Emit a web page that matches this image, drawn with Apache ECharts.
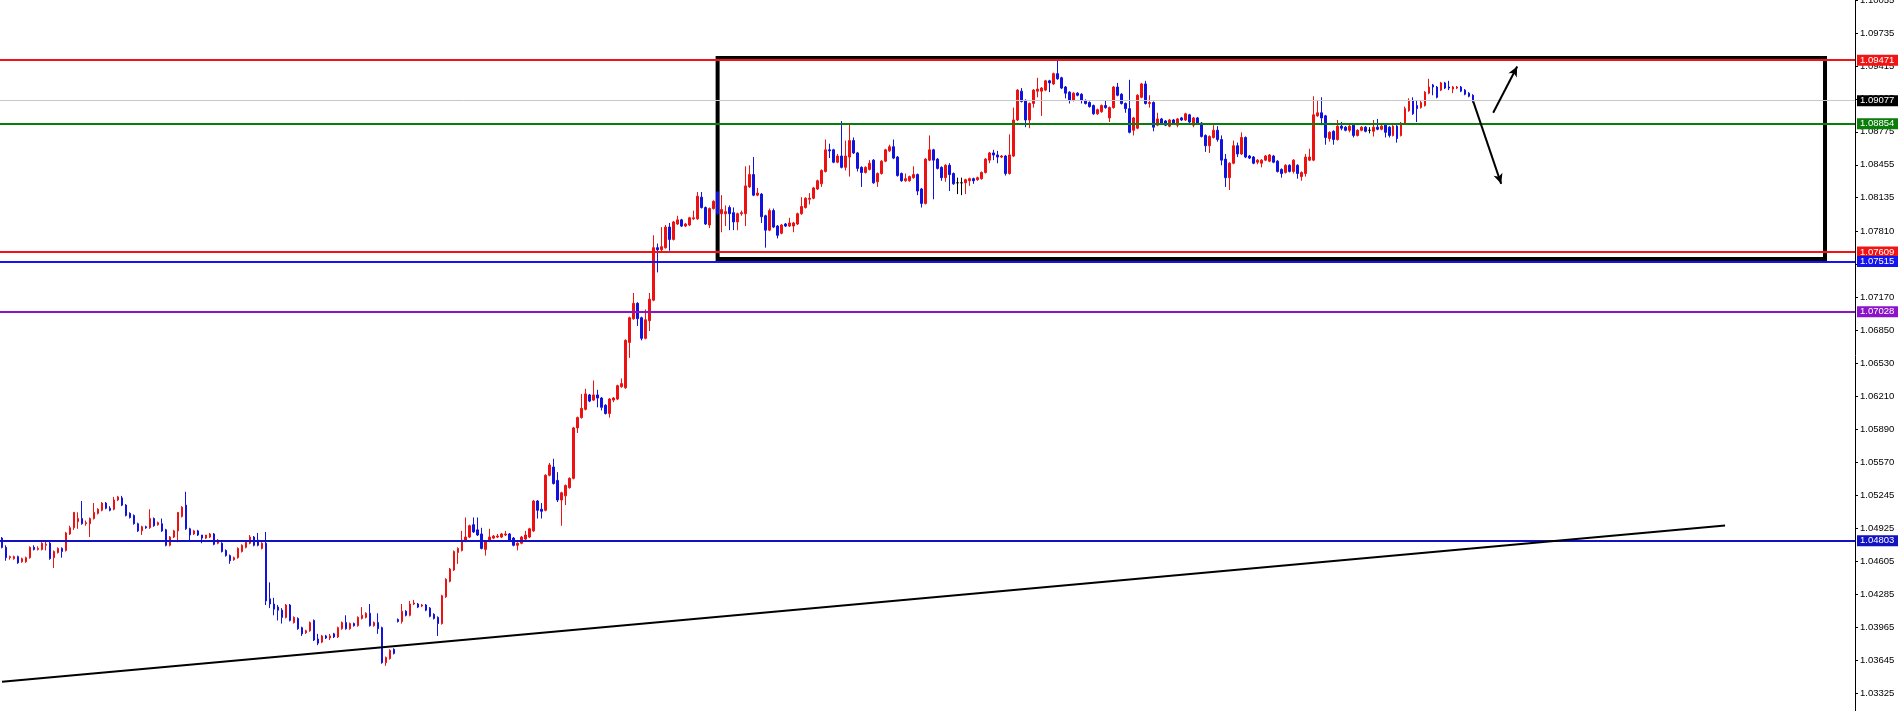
<!DOCTYPE html>
<html>
<head>
<meta charset="utf-8">
<script src="https://cdn.jsdelivr.net/npm/echarts@6/dist/echarts.min.js"></script>
<style>
html,body{margin:0;padding:0;background:#fff;}
#c{width:1898px;height:711px;}
</style>
</head>
<body>
<div id="c"></div>
<script>
// ---- DATA (EUR/USD style candles) ----
const opens = [
1.0483,1.0474,1.0464,1.0463,1.0465,1.0460,1.0460,1.0464,1.0474,1.0472,
1.0472,1.0476,1.0478,1.0464,1.0469,1.0473,1.0471,1.0487,1.0493,1.0499,
1.0502,1.0497,1.0497,1.0502,1.0507,1.0510,1.0517,1.0512,1.0511,1.0520,
1.0522,1.0515,1.0507,1.0505,1.0497,1.0490,1.0494,1.0493,1.0502,1.0496,
1.0497,1.0491,1.0476,1.0484,1.0490,1.0504,1.0515,1.0492,1.0487,1.0490,
1.0486,1.0483,1.0484,1.0487,1.0478,1.0478,1.0471,1.0466,1.0462,1.0464,
1.0470,1.0474,1.0478,1.0484,1.0481,1.0473,1.0478,1.0424,1.0419,1.0416,
1.0413,1.0406,1.0418,1.0401,1.0405,1.0396,1.0391,1.0393,1.0403,1.0385,
1.0382,1.0388,1.0386,1.0390,1.0387,1.0395,1.0401,1.0395,1.0400,1.0398,
1.0405,1.0406,1.0410,1.0398,1.0401,1.0396,1.0362,1.0366,1.0375,1.0404,
1.0402,1.0412,1.0408,1.0419,1.0419,1.0417,1.0418,1.0415,1.0409,1.0406,
1.0400,1.0426,1.0441,1.0452,1.0469,1.0471,1.0480,1.0484,1.0496,1.0491,
1.0487,1.0472,1.0480,1.0483,1.0484,1.0484,1.0486,1.0487,1.0483,1.0476,
1.0478,1.0482,1.0484,1.0490,1.0519,1.0511,1.0510,1.0544,1.0552,1.0539,
1.0520,1.0524,1.0532,1.0541,1.0590,1.0600,1.0608,1.0622,1.0617,1.0622,
1.0619,1.0612,1.0604,1.0617,1.0618,1.0630,1.0629,1.0673,1.0696,1.0711,
1.0697,1.0677,1.0694,1.0714,1.0765,1.0763,1.0765,1.0785,1.0773,1.0788,
1.0792,1.0786,1.0787,1.0793,1.0793,1.0814,1.0804,1.0787,1.0803,1.0819,
1.0798,1.0798,1.0804,1.0799,1.0790,1.0798,1.0798,1.0824,1.0836,1.0816,
1.0817,1.0796,1.0782,1.0801,1.0786,1.0779,1.0788,1.0786,1.0786,1.0788,
1.0798,1.0804,1.0812,1.0813,1.0822,1.0827,1.0839,1.0860,1.0860,1.0848,
1.0854,1.0843,1.0853,1.0869,1.0857,1.0843,1.0838,1.0841,1.0850,1.0829,
1.0837,1.0849,1.0859,1.0863,1.0853,1.0837,1.0830,1.0830,1.0833,1.0836,
1.0822,1.0808,1.0850,1.0860,1.0851,1.0843,1.0833,1.0845,1.0837,1.0828,
1.0828,1.0828,1.0830,1.0832,1.0831,1.0832,1.0838,1.0850,1.0857,1.0855,
1.0853,1.0854,1.0837,1.0854,1.0889,1.0917,1.0908,1.0889,1.0905,1.0917,
1.0917,1.0918,1.0927,1.0924,1.0934,1.0930,1.0921,1.0916,1.0908,1.0915,
1.0914,1.0908,1.0906,1.0903,1.0895,1.0897,1.0903,1.0891,1.0901,1.0921,
1.0914,1.0905,1.0900,1.0879,1.0881,1.0911,1.0924,1.0905,1.0906,1.0884,
1.0890,1.0888,1.0883,1.0889,1.0884,1.0891,1.0889,1.0894,1.0884,1.0891,
1.0886,1.0874,1.0864,1.0872,1.0879,1.0870,1.0851,1.0833,1.0847,1.0864,
1.0856,1.0872,1.0854,1.0853,1.0848,1.0847,1.0850,1.0849,1.0854,1.0849,
1.0841,1.0838,1.0845,1.0839,1.0845,1.0834,1.0837,1.0850,1.0850,1.0893,
1.0896,1.0893,1.0871,1.0878,1.0870,1.0883,1.0882,1.0879,1.0884,1.0874,
1.0879,1.0882,1.0879,1.0878,1.0882,1.0880,1.0884,1.0882,1.0874,1.0883,
1.0874,1.0886,1.0898,1.0908,1.0903,1.0901,1.0903,1.0915,1.0923,1.0921,
1.0918,1.0925,1.0921,1.0919,1.0920,1.0921,1.0918,1.0915,1.0913
];
const closes = [
1.0474,1.0464,1.0465,1.0465,1.0459,1.0463,1.0464,1.0474,1.0472,1.0473,
1.0478,1.0477,1.0463,1.0470,1.0473,1.0470,1.0488,1.0493,1.0508,1.0502,
1.0497,1.0498,1.0502,1.0508,1.0511,1.0517,1.0512,1.0510,1.0520,1.0523,
1.0515,1.0505,1.0503,1.0497,1.0490,1.0494,1.0493,1.0502,1.0495,1.0498,
1.0490,1.0476,1.0484,1.0490,1.0508,1.0513,1.0492,1.0486,1.0490,1.0486,
1.0483,1.0486,1.0487,1.0477,1.0481,1.0470,1.0466,1.0461,1.0464,1.0473,
1.0476,1.0479,1.0484,1.0476,1.0476,1.0478,1.0422,1.0419,1.0414,1.0413,
1.0406,1.0418,1.0403,1.0406,1.0395,1.0390,1.0393,1.0401,1.0384,1.0381,
1.0388,1.0386,1.0388,1.0387,1.0396,1.0401,1.0395,1.0400,1.0398,1.0406,
1.0408,1.0410,1.0398,1.0401,1.0395,1.0362,1.0367,1.0374,1.0371,1.0402,
1.0412,1.0408,1.0419,1.0420,1.0416,1.0418,1.0413,1.0407,1.0405,1.0400,
1.0427,1.0443,1.0453,1.0470,1.0473,1.0481,1.0484,1.0495,1.0489,1.0486,
1.0473,1.0480,1.0484,1.0485,1.0485,1.0487,1.0487,1.0481,1.0476,1.0478,
1.0484,1.0486,1.0492,1.0519,1.0510,1.0509,1.0544,1.0554,1.0536,1.0520,
1.0527,1.0534,1.0541,1.0590,1.0600,1.0609,1.0623,1.0616,1.0622,1.0619,
1.0610,1.0604,1.0618,1.0619,1.0631,1.0633,1.0675,1.0697,1.0711,1.0696,
1.0677,1.0695,1.0715,1.0765,1.0763,1.0766,1.0785,1.0773,1.0790,1.0792,
1.0786,1.0788,1.0794,1.0794,1.0815,1.0804,1.0788,1.0803,1.0810,1.0798,
1.0802,1.0800,1.0798,1.0790,1.0798,1.0799,1.0825,1.0836,1.0816,1.0818,
1.0795,1.0782,1.0801,1.0785,1.0777,1.0787,1.0786,1.0789,1.0789,1.0798,
1.0805,1.0813,1.0813,1.0823,1.0830,1.0840,1.0860,1.0859,1.0848,1.0854,
1.0843,1.0854,1.0869,1.0857,1.0842,1.0838,1.0843,1.0847,1.0828,1.0837,
1.0849,1.0860,1.0863,1.0852,1.0835,1.0830,1.0832,1.0834,1.0836,1.0820,
1.0808,1.0851,1.0860,1.0850,1.0842,1.0833,1.0845,1.0836,1.0827,1.0828,
1.0828,1.0831,1.0832,1.0830,1.0833,1.0838,1.0851,1.0857,1.0855,1.0853,
1.0854,1.0837,1.0855,1.0889,1.0918,1.0907,1.0889,1.0905,1.0918,1.0919,
1.0920,1.0927,1.0925,1.0934,1.0929,1.0920,1.0915,1.0908,1.0915,1.0913,
1.0908,1.0905,1.0902,1.0895,1.0899,1.0903,1.0901,1.0901,1.0921,1.0913,
1.0905,1.0900,1.0877,1.0891,1.0913,1.0924,1.0905,1.0906,1.0882,1.0890,
1.0886,1.0884,1.0889,1.0886,1.0890,1.0889,1.0895,1.0887,1.0891,1.0886,
1.0873,1.0864,1.0873,1.0879,1.0870,1.0850,1.0833,1.0847,1.0864,1.0856,
1.0872,1.0853,1.0852,1.0847,1.0850,1.0850,1.0854,1.0855,1.0848,1.0839,
1.0837,1.0845,1.0839,1.0850,1.0837,1.0838,1.0853,1.0853,1.0894,1.0896,
1.0891,1.0872,1.0877,1.0870,1.0883,1.0881,1.0879,1.0883,1.0874,1.0879,
1.0882,1.0878,1.0879,1.0882,1.0880,1.0883,1.0877,1.0874,1.0883,1.0871,
1.0886,1.0900,1.0908,1.0895,1.0900,1.0906,1.0916,1.0921,1.0921,1.0911,
1.0925,1.0920,1.0920,1.0921,1.0921,1.0917,1.0914,1.0912,1.0908
];
const lows = [
1.0473,1.0461,1.0462,1.0462,1.0458,1.0459,1.0459,1.0463,1.0471,1.0471,
1.0471,1.0471,1.0462,1.0454,1.0468,1.0464,1.0470,1.0486,1.0491,1.0492,
1.0496,1.0495,1.0484,1.0501,1.0506,1.0509,1.0511,1.0509,1.0510,1.0519,
1.0514,1.0504,1.0502,1.0496,1.0489,1.0486,1.0492,1.0492,1.0494,1.0495,
1.0489,1.0475,1.0475,1.0483,1.0479,1.0503,1.0491,1.0481,1.0486,1.0485,
1.0478,1.0482,1.0483,1.0476,1.0477,1.0469,1.0465,1.0458,1.0461,1.0463,
1.0469,1.0473,1.0477,1.0475,1.0475,1.0472,1.0418,1.0415,1.0408,1.0403,
1.0400,1.0405,1.0402,1.0400,1.0394,1.0388,1.0390,1.0392,1.0383,1.0379,
1.0381,1.0385,1.0384,1.0386,1.0386,1.0394,1.0394,1.0394,1.0397,1.0397,
1.0404,1.0405,1.0397,1.0397,1.0390,1.0361,1.0359,1.0365,1.0370,1.0401,
1.0400,1.0407,1.0407,1.0418,1.0415,1.0416,1.0412,1.0406,1.0404,1.0388,
1.0399,1.0425,1.0440,1.0451,1.0458,1.0470,1.0479,1.0483,1.0488,1.0485,
1.0472,1.0466,1.0479,1.0482,1.0483,1.0483,1.0485,1.0480,1.0475,1.0471,
1.0477,1.0481,1.0483,1.0489,1.0502,1.0502,1.0509,1.0543,1.0535,1.0518,
1.0495,1.0515,1.0531,1.0540,1.0585,1.0599,1.0607,1.0615,1.0616,1.0610,
1.0607,1.0603,1.0600,1.0615,1.0617,1.0629,1.0628,1.0658,1.0695,1.0689,
1.0675,1.0676,1.0684,1.0713,1.0741,1.0760,1.0764,1.0762,1.0772,1.0787,
1.0785,1.0785,1.0786,1.0792,1.0792,1.0803,1.0787,1.0784,1.0802,1.0797,
1.0780,1.0786,1.0782,1.0782,1.0782,1.0796,1.0786,1.0823,1.0815,1.0815,
1.0789,1.0765,1.0781,1.0784,1.0774,1.0778,1.0785,1.0785,1.0780,1.0787,
1.0797,1.0803,1.0807,1.0812,1.0821,1.0824,1.0838,1.0852,1.0847,1.0847,
1.0842,1.0840,1.0834,1.0856,1.0839,1.0824,1.0837,1.0840,1.0827,1.0824,
1.0836,1.0848,1.0858,1.0851,1.0834,1.0829,1.0829,1.0829,1.0832,1.0816,
1.0804,1.0807,1.0849,1.0812,1.0841,1.0830,1.0829,1.0820,1.0826,1.0817,
1.0816,1.0817,1.0825,1.0827,1.0830,1.0831,1.0837,1.0847,1.0850,1.0847,
1.0852,1.0835,1.0836,1.0853,1.0888,1.0906,1.0882,1.0881,1.0901,1.0911,
1.0893,1.0917,1.0916,1.0923,1.0928,1.0919,1.0910,1.0905,1.0907,1.0912,
1.0905,1.0904,1.0901,1.0894,1.0894,1.0896,1.0900,1.0887,1.0900,1.0912,
1.0904,1.0896,1.0876,1.0874,1.0880,1.0910,1.0904,1.0901,1.0878,1.0883,
1.0885,1.0883,1.0882,1.0885,1.0882,1.0888,1.0888,1.0886,1.0882,1.0885,
1.0872,1.0858,1.0857,1.0871,1.0868,1.0845,1.0824,1.0821,1.0846,1.0853,
1.0855,1.0852,1.0851,1.0846,1.0846,1.0843,1.0849,1.0848,1.0847,1.0838,
1.0833,1.0837,1.0838,1.0837,1.0832,1.0830,1.0834,1.0849,1.0849,1.0892,
1.0884,1.0865,1.0868,1.0865,1.0869,1.0879,1.0878,1.0877,1.0872,1.0873,
1.0878,1.0877,1.0876,1.0873,1.0879,1.0879,1.0872,1.0872,1.0873,1.0867,
1.0873,1.0885,1.0897,1.0894,1.0887,1.0900,1.0902,1.0914,1.0913,1.0910,
1.0917,1.0919,1.0918,1.0915,1.0919,1.0916,1.0913,1.0911,1.0906
];
const highs = [
1.0484,1.0476,1.0466,1.0466,1.0466,1.0464,1.0465,1.0475,1.0476,1.0475,
1.0479,1.0480,1.0480,1.0471,1.0474,1.0474,1.0489,1.0495,1.0508,1.0508,
1.0519,1.0500,1.0503,1.0517,1.0512,1.0518,1.0518,1.0514,1.0523,1.0524,
1.0524,1.0516,1.0508,1.0506,1.0498,1.0495,1.0495,1.0511,1.0503,1.0499,
1.0502,1.0492,1.0485,1.0491,1.0508,1.0514,1.0528,1.0493,1.0491,1.0491,
1.0486,1.0486,1.0488,1.0488,1.0482,1.0479,1.0472,1.0467,1.0465,1.0474,
1.0477,1.0480,1.0486,1.0485,1.0488,1.0479,1.0489,1.0440,1.0425,1.0418,
1.0415,1.0419,1.0419,1.0407,1.0406,1.0397,1.0394,1.0402,1.0404,1.0390,
1.0389,1.0389,1.0390,1.0391,1.0397,1.0402,1.0408,1.0401,1.0401,1.0407,
1.0416,1.0411,1.0419,1.0402,1.0410,1.0397,1.0368,1.0375,1.0376,1.0405,
1.0419,1.0413,1.0422,1.0423,1.0420,1.0419,1.0419,1.0416,1.0410,1.0407,
1.0428,1.0444,1.0454,1.0471,1.0474,1.0490,1.0503,1.0496,1.0503,1.0503,
1.0493,1.0481,1.0492,1.0486,1.0487,1.0488,1.0490,1.0488,1.0484,1.0479,
1.0485,1.0490,1.0493,1.0520,1.0520,1.0517,1.0545,1.0556,1.0560,1.0547,
1.0528,1.0535,1.0542,1.0591,1.0601,1.0623,1.0628,1.0623,1.0636,1.0627,
1.0620,1.0613,1.0619,1.0620,1.0632,1.0638,1.0676,1.0698,1.0721,1.0712,
1.0698,1.0705,1.0721,1.0777,1.0769,1.0785,1.0787,1.0789,1.0791,1.0796,
1.0793,1.0789,1.0795,1.0801,1.0819,1.0819,1.0805,1.0804,1.0811,1.0820,
1.0816,1.0806,1.0806,1.0804,1.0799,1.0801,1.0844,1.0845,1.0853,1.0823,
1.0818,1.0797,1.0803,1.0803,1.0787,1.0788,1.0789,1.0794,1.0790,1.0799,
1.0814,1.0814,1.0818,1.0824,1.0831,1.0841,1.0870,1.0866,1.0861,1.0856,
1.0888,1.0869,1.0886,1.0872,1.0858,1.0844,1.0844,1.0850,1.0851,1.0838,
1.0850,1.0861,1.0865,1.0870,1.0854,1.0838,1.0837,1.0835,1.0844,1.0837,
1.0823,1.0852,1.0874,1.0861,1.0852,1.0844,1.0846,1.0847,1.0838,1.0833,
1.0833,1.0832,1.0833,1.0833,1.0834,1.0839,1.0852,1.0858,1.0860,1.0859,
1.0855,1.0855,1.0875,1.0901,1.0919,1.0920,1.0909,1.0906,1.0919,1.0930,
1.0921,1.0928,1.0928,1.0935,1.0947,1.0931,1.0922,1.0917,1.0916,1.0916,
1.0915,1.0909,1.0907,1.0904,1.0900,1.0904,1.0908,1.0902,1.0922,1.0925,
1.0915,1.0906,1.0928,1.0892,1.0914,1.0925,1.0927,1.0913,1.0907,1.0896,
1.0891,1.0889,1.0890,1.0890,1.0891,1.0892,1.0896,1.0895,1.0892,1.0892,
1.0887,1.0875,1.0874,1.0884,1.0883,1.0874,1.0856,1.0848,1.0869,1.0867,
1.0877,1.0873,1.0855,1.0854,1.0851,1.0851,1.0855,1.0856,1.0855,1.0850,
1.0842,1.0846,1.0846,1.0851,1.0846,1.0839,1.0856,1.0861,1.0912,1.0908,
1.0911,1.0894,1.0878,1.0879,1.0889,1.0887,1.0883,1.0884,1.0885,1.0880,
1.0883,1.0883,1.0882,1.0889,1.0890,1.0884,1.0885,1.0883,1.0884,1.0884,
1.0887,1.0902,1.0910,1.0911,1.0908,1.0908,1.0917,1.0929,1.0924,1.0922,
1.0926,1.0926,1.0927,1.0922,1.0922,1.0922,1.0919,1.0916,1.0914
];

// horizontal price levels and their colours
const levelValues = [1.09471, 1.09077, 1.08854, 1.07609, 1.07515, 1.07028, 1.04803];
const levelColors = ['#f01414', '#c8c8c8', '#0a7d0a', '#f01414', '#1414f0', '#8c14c8', '#1212c0'];
const levelLabelBg = ['#f01414', '#000000', '#0a7d0a', '#f01414', '#1414f0', '#8c14c8', '#1212c0'];
const levelWidths = [2, 1, 2, 2, 2, 2, 2];

// price-axis tick labels
const yTicks = [1.03325,1.03645,1.03965,1.04285,1.04605,1.04925,1.05245,1.05570,1.05890,1.06210,
  1.06530,1.06850,1.07170,1.07490,1.07810,1.08135,1.08455,1.08775,1.09095,1.09415,1.09735,1.10055];

// annotations in data coordinates [bar index, price]
const trendLine = [[0, 1.03436], [431, 1.04953]];
const rangeBox = [[179, 1.09492], [456, 1.07540]];
const arrowUp = [[373, 1.0896], [379, 1.0941]];
const arrowDown = [[368, 1.0907], [375, 1.0827]];
const slotCount = 464;

// ---- BUILD ----
const categories = [];
for (let i = 0; i < slotCount; i++) categories.push(String(i));
const candles = opens.map((o, i) => [o, closes[i], lows[i], highs[i]]);

const FONT = 'Liberation Sans';
const levelLines = levelValues.map((v, k) => ({
  yAxis: v,
  lineStyle: { color: levelColors[k], width: levelWidths[k], type: 'solid' },
  label: {
    show: true, position: 'end', distance: 2,
    formatter: () => v.toFixed(5),
    color: '#ffffff', backgroundColor: levelLabelBg[k],
    fontFamily: FONT, fontSize: 9.5, lineHeight: 10, padding: [1, 4, 0, 3]
  }
}));

const pairLine = (pts, withArrow, width) => [
  { coord: pts[0], symbol: 'none', lineStyle: { color: '#000', width: width, type: 'solid' }, label: { show: false } },
  { coord: pts[1], symbol: withArrow ? 'arrow' : 'none', symbolSize: withArrow ? [7, 10] : 0 }
];

const chart = echarts.init(document.getElementById('c'), null, { renderer: 'canvas' });
chart.setOption({
  animation: false,
  backgroundColor: '#ffffff',
  grid: { left: 0, right: 43, top: 0, bottom: 0, containLabel: false, outerBoundsMode: 'none' },
  xAxis: {
    type: 'category', data: categories, boundaryGap: true, show: false
  },
  yAxis: {
    type: 'value', position: 'right', min: 1.03151, max: 1.10055, scale: true,
    splitLine: { show: false },
    axisLine: { show: true, onZero: false, lineStyle: { color: '#000', width: 1 } },
    axisTick: { show: true, inside: false, length: 3, customValues: yTicks, lineStyle: { color: '#000' } },
    axisLabel: {
      show: true, customValues: yTicks, margin: 5, color: '#000',
      fontFamily: FONT, fontSize: 9.5,
      formatter: v => Number(v).toFixed(5)
    }
  },
  series: [{
    type: 'candlestick',
    data: candles,
    barWidth: 2,
    itemStyle: {
      color: '#ee1111', color0: '#1111e0',
      borderColor: '#ee1111', borderColor0: '#1111e0', borderColorDoji: '#000000',
      borderWidth: 1
    },
    markArea: {
      silent: true,
      label: { show: false },
      itemStyle: { color: 'rgba(0,0,0,0)', borderColor: '#000', borderWidth: 4 },
      data: [[{ coord: rangeBox[0] }, { coord: rangeBox[1] }]]
    },
    markLine: {
      silent: true,
      precision: 5,
      symbol: ['none', 'none'],
      animation: false,
      data: levelLines.concat([
        pairLine(trendLine, false, 2),
        pairLine(arrowUp, true, 2),
        pairLine(arrowDown, true, 2)
      ])
    }
  }]
});
</script>
</body>
</html>
